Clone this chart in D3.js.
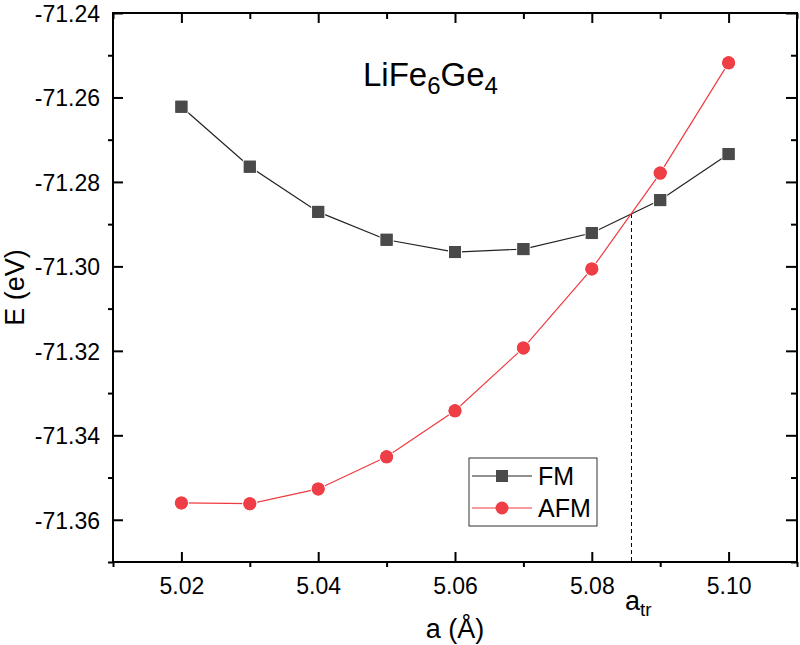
<!DOCTYPE html>
<html><head><meta charset="utf-8">
<script src="https://cdn.jsdelivr.net/npm/d3@7"></script>
<style>body{margin:0;background:#fff}svg{display:block;font-family:Arial,"Liberation Sans",sans-serif}</style>
</head><body><svg id="c" width="800" height="645"></svg>
<script>
const latticeA = [5.02,5.03,5.04,5.05,5.06,5.07,5.08,5.09,5.10];
const energyFM = [-71.2622,-71.2764,-71.2871,-71.2937,-71.2966,-71.2959,-71.2921,-71.2843,-71.2734];
const energyAFM = [-71.3560,-71.3562,-71.3527,-71.3451,-71.3342,-71.3193,-71.3006,-71.2779,-71.2518];
const xMajor = [5.02,5.04,5.06,5.08,5.10];
const xMinor = [5.01,5.03,5.05,5.07,5.09,5.11];
const yMajor = [-71.36,-71.34,-71.32,-71.30,-71.28,-71.26,-71.24];
const yMinor = [-71.37,-71.35,-71.33,-71.31,-71.29,-71.27,-71.25];
const aTr = 5.0858, eTr = -71.2876;

const svg = d3.select("#c");
const L=113,R=797,T=13,B=562;
const x = d3.scaleLinear().domain([5.01,5.11]).range([L,R]);
const y = d3.scaleLinear().domain([-71.37,-71.24]).range([B,T]);

const g = svg.append("g");
g.append("line").attr("x1",x(aTr)).attr("x2",x(aTr)).attr("y1",y(eTr)).attr("y2",B)
 .attr("stroke","#000").attr("stroke-width",1).attr("stroke-dasharray","4,3");

function axis(gen, tr, vals, size, fmt){
  const a = svg.append("g").attr("transform",tr)
   .call(gen.tickValues(vals).tickSize(size).tickSizeOuter(0).tickFormat(fmt||""));
  a.select(".domain").remove();
  a.selectAll("line").attr("stroke","#000").attr("stroke-width",2);
  return a;
}
const f2 = d => d3.format(".2f")(d).replace("\u2212","-");
const bx = axis(d3.axisBottom(x), `translate(0,${B})`, xMajor, -10, f2);
bx.selectAll("text").attr("y",16).attr("dy","0.71em").attr("font-size",23).attr("fill","#000");
axis(d3.axisBottom(x), `translate(0,${B})`, xMinor, 5);
axis(d3.axisTop(x), `translate(0,${T})`, xMajor, -10);
axis(d3.axisTop(x), `translate(0,${T})`, xMinor, -6);
const ly = axis(d3.axisLeft(y), `translate(${L},0)`, yMajor, -10, f2);
ly.selectAll("text").attr("x",-13).attr("dy","0.36em").attr("font-size",23).attr("fill","#000");
axis(d3.axisLeft(y), `translate(${L},0)`, yMinor, 5);
axis(d3.axisRight(y), `translate(${R},0)`, yMajor, -11);
axis(d3.axisRight(y), `translate(${R},0)`, yMinor, -6);

svg.append("path").attr("d",`M${L},${T}H${R}V${B}H${L}Z`).attr("fill","none").attr("stroke","#000").attr("stroke-width",2);

const line = (vals)=>d3.line().x((d,i)=>x(latticeA[i])).y(d=>y(d))(vals);
g.append("path").attr("d",line(energyFM)).attr("fill","none").attr("stroke","#222").attr("stroke-width",1.2);
g.append("path").attr("d",line(energyAFM)).attr("fill","none").attr("stroke","#f03a3e").attr("stroke-width",1.2);

g.selectAll(".sq").data(energyFM).enter().append("rect")
 .attr("x",(d,i)=>x(latticeA[i])-6).attr("y",d=>y(d)-6).attr("width",12).attr("height",12)
 .attr("fill","#4a4a4a").attr("stroke","#fff").attr("stroke-width",2).attr("paint-order","stroke");
g.selectAll(".ci").data(energyAFM).enter().append("circle")
 .attr("cx",(d,i)=>x(latticeA[i])).attr("cy",d=>y(d)).attr("r",6.5)
 .attr("fill","#ef3e45").attr("stroke","#fff").attr("stroke-width",2).attr("paint-order","stroke");
g.selectAll(".sq2").data(energyFM).enter().append("rect")
 .attr("x",(d,i)=>x(latticeA[i])-6).attr("y",d=>y(d)-6).attr("width",12).attr("height",12).attr("fill","#4a4a4a");
g.selectAll(".ci2").data(energyAFM).enter().append("circle")
 .attr("cx",(d,i)=>x(latticeA[i])).attr("cy",d=>y(d)).attr("r",6.5).attr("fill","#ef3e45");

const t = svg.append("text").attr("x",363).attr("y",86).attr("font-size",33).attr("fill","#000");
t.append("tspan").text("LiFe");
t.append("tspan").attr("font-size",24).attr("dy",8).text("6");
t.append("tspan").attr("dy",-8).text("Ge");
t.append("tspan").attr("font-size",24).attr("dy",8).text("4");

svg.append("text").attr("x",455).attr("y",638).attr("text-anchor","middle").attr("font-size",27).text("a (Å)");
svg.append("text").attr("transform",`translate(24,${(T+B)/2}) rotate(-90)`).attr("text-anchor","middle").attr("font-size",27).text("E (eV)");

const at = svg.append("text").attr("x",625).attr("y",610).attr("font-size",27);
at.append("tspan").text("a");
at.append("tspan").attr("font-size",19).attr("dy",6).text("tr");

const lg = svg.append("g");
lg.append("rect").attr("x",469).attr("y",458).attr("width",128).attr("height",68).attr("fill","#fff").attr("stroke","#333").attr("stroke-width",1);
const items=[{n:"FM",c:"#222",f:"#4a4a4a",s:"sq",yy:476},{n:"AFM",c:"#f03a3e",f:"#ef3e45",s:"ci",yy:508}];
items.forEach(it=>{
  lg.append("line").attr("x1",472).attr("x2",532).attr("y1",it.yy).attr("y2",it.yy).attr("stroke",it.c).attr("stroke-width",1.2);
  if(it.s==="sq") lg.append("rect").attr("x",496).attr("y",it.yy-6).attr("width",12).attr("height",12).attr("fill",it.f);
  else lg.append("circle").attr("cx",502).attr("cy",it.yy).attr("r",6.5).attr("fill",it.f);
  lg.append("text").attr("x",538).attr("y",it.yy+9).attr("font-size",25).text(it.n);
});
</script></body></html>
